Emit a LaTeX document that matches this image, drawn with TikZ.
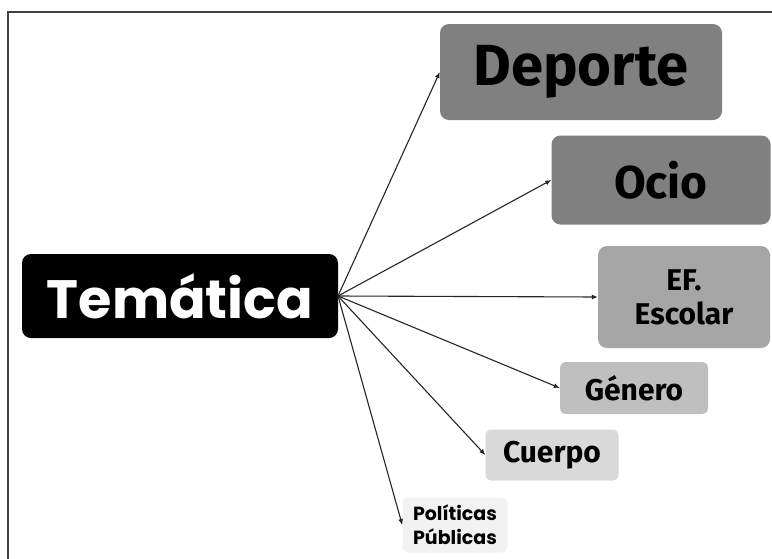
\documentclass[tikz,border=0pt]{standalone}
\usepackage{fontspec}
\setmainfont{Fira Sans}
\newfontfamily\wide{Poppins}
\usetikzlibrary{arrows.meta}
\definecolor{frm}{HTML}{404040}
\tikzset{
  box/.style={rounded corners=9pt, inner sep=0pt, align=center, font=\bfseries, text=black},
  conn/.style={draw=black!85, line width=1.1pt, -{Latex[length=6pt,width=5pt]}},
}
\begin{document}
\begin{tikzpicture}[x=1pt,y=-1pt]
\useasboundingbox (0,0) rectangle (772,558);
\fill[white] (0,0) rectangle (772,558);
\draw[frm, line width=1.8pt] (8,570) -- (8,12) -- (790,12);
% nodes
\node[box, fill=black, text=white, minimum width=316pt, minimum height=84pt, font=\wide\bfseries\fontsize{54}{58}\selectfont] (tem) at (180,296) {Temática};
\node[box, fill=black!50, minimum width=282pt, minimum height=96pt, font=\bfseries\fontsize{58}{62}\selectfont] (dep) at (581,72) {Deporte};
\node[box, fill=black!50, minimum width=219pt, minimum height=89pt, font=\bfseries\fontsize{46}{48}\selectfont] (ocio) at (661,180) {Ocio};
\node[box, fill=black!35, minimum width=172pt, minimum height=102pt, font=\bfseries\fontsize{30}{34}\selectfont] (ef) at (684,297) {EF.\\Escolar};
\node[box, fill=black!25, rounded corners=6pt, minimum width=148pt, minimum height=52pt, font=\bfseries\fontsize{30}{32}\selectfont] (gen) at (634,388) {Género};
\node[box, fill=black!15, rounded corners=6pt, minimum width=133pt, minimum height=51pt, font=\bfseries\fontsize{30}{32}\selectfont] (cue) at (552,455) {Cuerpo};
\node[box, fill=black!5, rounded corners=6pt, minimum width=105pt, minimum height=55pt, font=\wide\bfseries\fontsize{19}{24}\selectfont] (pol) at (455,525) {Políticas\\Públicas};
% connectors
\coordinate (o) at (338,296);
\draw[conn] (o) -- (dep.west);
\draw[conn] (o) -- (ocio.west);
\draw[conn] (o) -- (ef.west);
\draw[conn] (o) -- (gen.west);
\draw[conn] (o) -- (cue.west);
\draw[conn] (o) -- (pol.west);
\end{tikzpicture}
\end{document}
